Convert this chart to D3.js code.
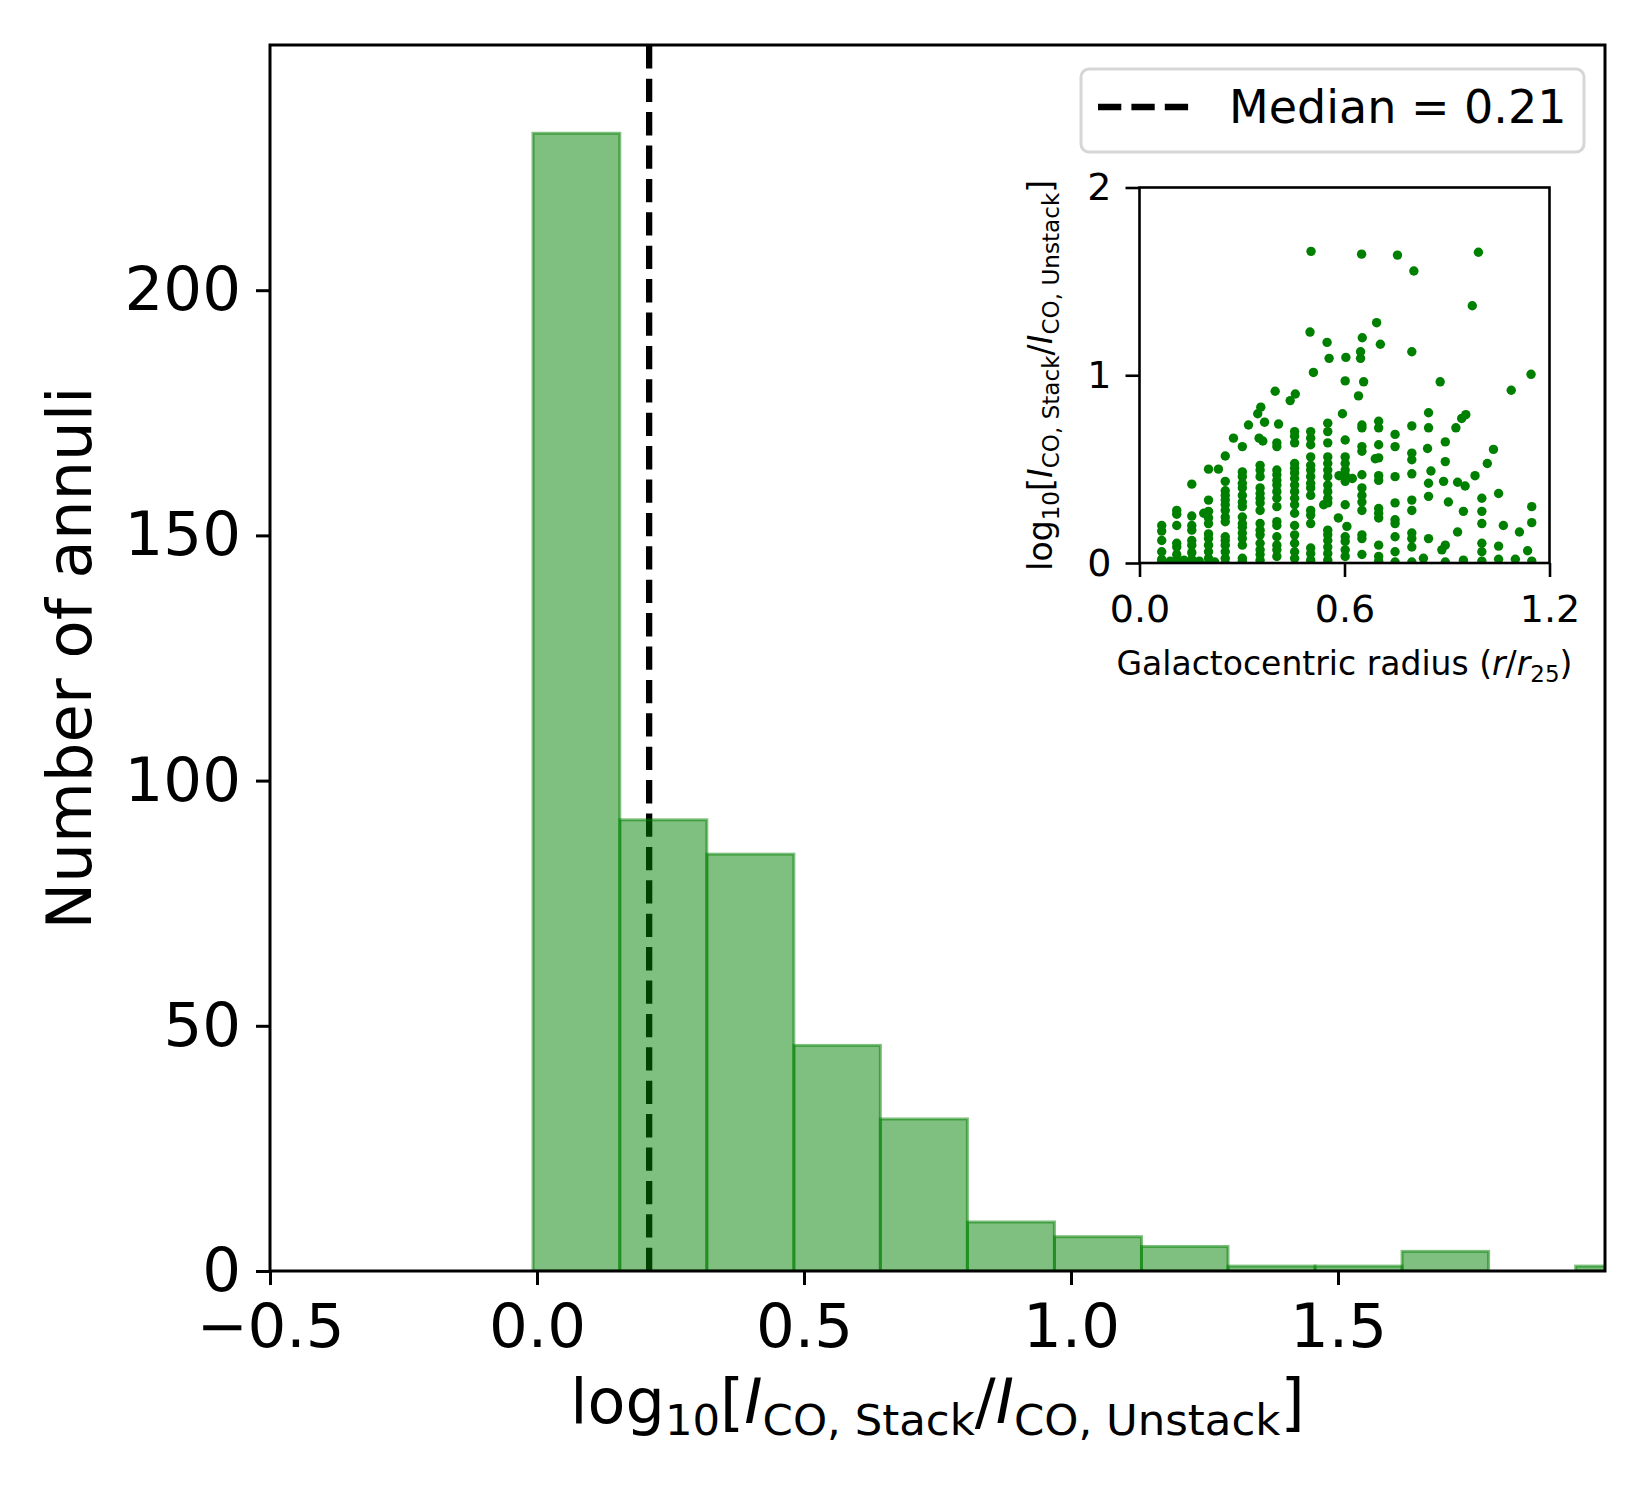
<!DOCTYPE html>
<html lang="en">
<head>
<meta charset="UTF-8">
<title>CO stacking ratio histogram</title>
<script src="https://cdn.jsdelivr.net/npm/d3@7"></script>
<style>
    body { margin: 0; background: #fff; }
    svg { font-family: "DejaVu Sans", sans-serif; }
</style>
</head>
<body>
<script>
// histogram bins (log10 ratio) and counts
var histEdges = [-0.0075, 0.155, 0.318, 0.481, 0.643, 0.806, 0.969, 1.132, 1.294, 1.457, 1.620, 1.782, 1.945, 2.108];
var histCounts = [232, 92, 85, 46, 31, 10, 7, 5, 1, 1, 4, 0, 1];
var medianValue = 0.21;
var xTicks = [-0.5, 0, 0.5, 1.0, 1.5];
var yTicks = [0, 50, 100, 150, 200];

// inset: [r/r25, log10 ratio]
var insetPoints = [
    [0.065,0.20],[0.065,0.17],[0.065,0.12],[0.065,0.06],[0.065,0.02],[0.065,0.005],
    [0.109,0.28],[0.109,0.26],[0.109,0.20],[0.109,0.105],[0.109,0.085],[0.109,0.045],[0.109,0.012],[0.109,0.0],
    [0.153,0.42],[0.153,0.25],[0.153,0.20],[0.153,0.175],[0.153,0.12],[0.153,0.095],[0.153,0.055],[0.153,0.02],[0.153,0.0],
    [0.09,0.01],[0.13,0.015],[0.175,0.01],[0.22,0.005],
    [0.202,0.50],[0.202,0.335],[0.202,0.275],[0.202,0.24],[0.202,0.21],[0.202,0.155],[0.202,0.13],[0.202,0.095],[0.202,0.06],[0.202,0.025],[0.202,0.0],
    [0.188,0.265],[0.231,0.50],
    [0.251,0.57],[0.251,0.435],[0.251,0.385],[0.251,0.36],[0.251,0.335],[0.251,0.31],[0.251,0.28],[0.251,0.245],[0.251,0.22],[0.251,0.14],[0.251,0.12],[0.251,0.095],[0.251,0.06],[0.251,0.025],[0.251,0.0],
    [0.275,0.665],
    [0.301,0.62],[0.301,0.485],[0.301,0.46],[0.301,0.425],[0.301,0.40],[0.301,0.36],[0.301,0.325],[0.301,0.30],[0.301,0.245],[0.301,0.21],[0.301,0.19],[0.301,0.16],[0.301,0.13],[0.301,0.095],[0.301,0.025],[0.301,0.01],
    [0.319,0.735],
    [0.355,0.83],[0.346,0.795],[0.366,0.75],[0.35,0.665],[0.361,0.65],[0.353,0.52],[0.353,0.495],[0.353,0.46],[0.353,0.40],[0.353,0.37],[0.353,0.345],[0.353,0.32],[0.353,0.28],[0.353,0.21],[0.353,0.175],[0.353,0.15],[0.353,0.105],[0.353,0.07],[0.353,0.045],[0.353,0.015],
    [0.397,0.915],[0.407,0.74],[0.402,0.64],[0.402,0.62],[0.402,0.495],[0.402,0.47],[0.402,0.44],[0.402,0.415],[0.402,0.38],[0.402,0.345],[0.402,0.30],[0.402,0.22],[0.402,0.20],[0.402,0.14],[0.402,0.095],[0.402,0.07],[0.402,0.035],
    [0.456,0.90],[0.441,0.865],[0.454,0.70],[0.454,0.675],[0.454,0.64],[0.454,0.53],[0.454,0.505],[0.454,0.48],[0.454,0.45],[0.454,0.415],[0.454,0.38],[0.454,0.345],[0.454,0.31],[0.454,0.265],[0.454,0.20],[0.454,0.15],[0.454,0.105],[0.454,0.06],[0.454,0.025],
    [0.502,1.66],[0.499,1.23],[0.509,1.015],[0.501,0.70],[0.501,0.665],[0.501,0.63],[0.501,0.565],[0.501,0.52],[0.501,0.495],[0.501,0.46],[0.501,0.425],[0.501,0.40],[0.501,0.36],[0.501,0.28],[0.501,0.255],[0.501,0.21],[0.501,0.08],[0.501,0.05],[0.501,0.015],
    [0.549,1.175],[0.555,1.09],[0.551,0.745],[0.551,0.70],[0.551,0.64],[0.551,0.565],[0.551,0.53],[0.551,0.495],[0.551,0.46],[0.551,0.415],[0.551,0.38],[0.551,0.345],[0.551,0.32],[0.539,0.31],[0.551,0.175],[0.551,0.15],[0.551,0.12],[0.551,0.085],[0.551,0.05],[0.551,0.015],
    [0.604,1.095],[0.602,0.97],[0.594,0.795],[0.602,0.655],[0.602,0.565],[0.602,0.53],[0.602,0.495],[0.602,0.47],[0.602,0.435],[0.584,0.465],[0.623,0.45],[0.602,0.31],[0.582,0.24],[0.607,0.195],[0.602,0.14],[0.602,0.115],[0.602,0.07],[0.602,0.035],
    [0.650,1.645],[0.652,1.20],[0.647,1.125],[0.647,1.09],[0.656,0.965],[0.641,0.89],[0.651,0.735],[0.651,0.72],[0.651,0.62],[0.651,0.595],[0.651,0.47],[0.651,0.40],[0.651,0.36],[0.651,0.325],[0.651,0.28],[0.651,0.15],[0.651,0.13],[0.651,0.045],
    [0.694,1.28],[0.705,1.165],[0.70,0.755],[0.70,0.72],[0.70,0.63],[0.70,0.56],[0.69,0.555],[0.70,0.465],[0.70,0.44],[0.70,0.29],[0.70,0.265],[0.70,0.24],[0.70,0.095],[0.70,0.035],[0.70,0.01],
    [0.755,1.64],[0.748,0.685],[0.748,0.62],[0.748,0.46],[0.748,0.32],[0.748,0.23],[0.748,0.21],[0.748,0.14],[0.748,0.06],[0.748,0.005],
    [0.803,1.555],[0.797,1.125],[0.797,0.73],[0.797,0.585],[0.797,0.55],[0.797,0.475],[0.797,0.335],[0.797,0.28],[0.797,0.16],[0.797,0.13],[0.797,0.085],[0.797,0.005],
    [0.846,0.80],[0.846,0.72],[0.843,0.61],[0.853,0.49],[0.846,0.425],[0.846,0.355],[0.846,0.13],[0.831,0.025],
    [0.88,0.965],[0.895,0.645],[0.895,0.54],[0.89,0.435],[0.904,0.325],[0.895,0.095],[0.885,0.07],[0.895,0.005],
    [0.955,0.79],[0.943,0.77],[0.926,0.72],[0.931,0.43],[0.953,0.41],[0.948,0.275],[0.931,0.165],[0.948,0.015],
    [0.992,1.655],[0.974,1.37],[0.982,0.465],[1.018,0.53],[1.036,0.605],[1.002,0.345],[1.002,0.275],[1.002,0.21],[1.002,0.105],[1.002,0.06],[1.002,0.01],
    [1.051,0.37],[1.065,0.20],[1.051,0.09],[1.051,0.02],
    [1.088,0.92],[1.112,0.165],[1.10,0.02],
    [1.146,1.005],[1.148,0.30],[1.148,0.215],[1.136,0.065],[1.148,0.01]
];
var insetXTicks = [0, 0.6, 1.2];
var insetYTicks = [0, 1, 2];

var W = 1650, H = 1500;
var svg = d3.select("body").append("svg").attr("width", W).attr("height", H);

// ---- main axes ----
var mL = 270, mR = 1605, mT = 45, mB = 1271;
var x = d3.scaleLinear().domain([-0.5, 2.0]).range([mL, mR]);
var y = d3.scaleLinear().domain([0, 250]).range([mB, mT]);

svg.append("clipPath").attr("id", "mainClip")
    .append("rect").attr("x", mL).attr("y", mT)
    .attr("width", mR - mL).attr("height", mB - mT);

var plot = svg.append("g").attr("clip-path", "url(#mainClip)");

// median line (sits under the bars)
plot.append("line")
    .attr("x1", x(medianValue)).attr("x2", x(medianValue))
    .attr("y1", mB).attr("y2", mT)
    .attr("stroke", "black")
    .attr("stroke-width", 6.3)
    .attr("stroke-dasharray", "23.3,10.1");

var bins = histCounts.map(function(c, i){
    return { x0: histEdges[i], x1: histEdges[i + 1], n: c };
});
plot.selectAll("rect.bar")
    .data(bins)
    .enter()
    .append("rect")
    .attr("class", "bar")
    .attr("x", function(d){ return x(d.x0); })
    .attr("width", function(d){ return x(d.x1) - x(d.x0); })
    .attr("y", function(d){ return y(d.n); })
    .attr("height", function(d){ return y(0) - y(d.n); })
    .attr("fill", "green").attr("fill-opacity", 0.5)
    .attr("stroke", "green").attr("stroke-opacity", 0.5)
    .attr("stroke-width", 3);

var xAxis = svg.append("g")
    .attr("transform", "translate(0," + mB + ")")
    .call(d3.axisBottom(x).tickValues(xTicks).tickFormat(d3.format(".1f"))
        .tickSizeInner(14).tickSizeOuter(0).tickPadding(19));
var yAxis = svg.append("g")
    .attr("transform", "translate(" + mL + ",0)")
    .call(d3.axisLeft(y).tickValues(yTicks).tickFormat(d3.format("d"))
        .tickSizeInner(14).tickSizeOuter(0).tickPadding(15));
[xAxis, yAxis].forEach(function(a){
    a.select(".domain").remove();
    a.selectAll(".tick line").attr("stroke", "black").attr("stroke-width", 3);
    a.selectAll(".tick text").attr("fill", "black")
        .style("font-size", "61px").style("font-family", "DejaVu Sans");
});

svg.append("rect")
    .attr("x", mL).attr("y", mT)
    .attr("width", mR - mL).attr("height", mB - mT)
    .attr("fill", "none").attr("stroke", "black").attr("stroke-width", 3);

// axis labels
svg.append("text")
    .attr("transform", "translate(91," + ((mT + mB) / 2) + ") rotate(-90)")
    .attr("text-anchor", "middle")
    .style("font-size", "62.5px")
    .text("Number of annuli");

// mathtext-like label: log10[I_CO,Stack / I_CO,Unstack]
function ratioLabel(g, size){
    var t = g.append("text").attr("text-anchor", "middle").style("font-size", size + "px");
    var s = size * 0.7, d = size * 0.2;
    t.append("tspan").text("log");
    t.append("tspan").attr("dy", d).style("font-size", s + "px").text("10");
    t.append("tspan").attr("dy", -d).text("[");
    t.append("tspan").style("font-style", "italic").text("I");
    t.append("tspan").attr("dy", d).style("font-size", s + "px").text("CO, Stack");
    t.append("tspan").attr("dy", -d).text("/");
    t.append("tspan").style("font-style", "italic").text("I");
    t.append("tspan").attr("dy", d).style("font-size", s + "px").text("CO, Unstack");
    t.append("tspan").attr("dy", -d).text("]");
    return t;
}
ratioLabel(svg.append("g").attr("transform", "translate(" + ((mL + mR) / 2) + ",1423)"), 62);

// legend
svg.append("rect")
    .attr("x", 1081).attr("y", 69).attr("width", 503).attr("height", 83)
    .attr("rx", 8).attr("ry", 8)
    .attr("fill", "white").attr("fill-opacity", 0.8)
    .attr("stroke", "#d6d6d6").attr("stroke-width", 3);
svg.append("line")
    .attr("x1", 1098).attr("x2", 1190).attr("y1", 107).attr("y2", 107)
    .attr("stroke", "black").attr("stroke-width", 6.3)
    .attr("stroke-dasharray", "23.3,10.1");
svg.append("text")
    .attr("x", 1229).attr("y", 123)
    .style("font-size", "46px")
    .text("Median = " + medianValue.toFixed(2));

// ---- inset ----
var iL = 1139.5, iR = 1549.5, iT = 187.5, iB = 563;
var ix = d3.scaleLinear().domain([0, 1.2]).range([iL, iR]);
var iy = d3.scaleLinear().domain([0, 2]).range([iB, iT]);

svg.append("clipPath").attr("id", "insetClip")
    .append("rect").attr("x", iL).attr("y", iT)
    .attr("width", iR - iL).attr("height", iB - iT);

svg.append("rect")
    .attr("x", iL).attr("y", iT).attr("width", iR - iL).attr("height", iB - iT)
    .attr("fill", "white");

svg.append("g").attr("clip-path", "url(#insetClip)")
    .selectAll("circle")
    .data(insetPoints)
    .enter()
    .append("circle")
    .attr("cx", function(d){ return ix(d[0]); })
    .attr("cy", function(d){ return iy(d[1]); })
    .attr("r", 4.7)
    .attr("fill", "green");

var ixAxis = svg.append("g")
    .attr("transform", "translate(0," + iB + ")")
    .call(d3.axisBottom(ix).tickValues(insetXTicks).tickFormat(d3.format(".1f"))
        .tickSizeInner(14).tickSizeOuter(0).tickPadding(18));
var iyAxis = svg.append("g")
    .attr("transform", "translate(" + iL + ",0)")
    .call(d3.axisLeft(iy).tickValues(insetYTicks).tickFormat(d3.format("d"))
        .tickSizeInner(14).tickSizeOuter(0).tickPadding(14));
[ixAxis, iyAxis].forEach(function(a){
    a.select(".domain").remove();
    a.selectAll(".tick line").attr("stroke", "black").attr("stroke-width", 2.6);
    a.selectAll(".tick text").attr("fill", "black")
        .style("font-size", "38px").style("font-family", "DejaVu Sans");
});

svg.append("rect")
    .attr("x", iL).attr("y", iT).attr("width", iR - iL).attr("height", iB - iT)
    .attr("fill", "none").attr("stroke", "black").attr("stroke-width", 2.6);

var gx = svg.append("text")
    .attr("x", (iL + iR) / 2).attr("y", 675)
    .attr("text-anchor", "middle")
    .style("font-size", "33px");
gx.append("tspan").text("Galactocentric radius (");
gx.append("tspan").style("font-style", "italic").text("r");
gx.append("tspan").text("/");
gx.append("tspan").style("font-style", "italic").text("r");
gx.append("tspan").attr("dy", 6.6).style("font-size", "23px").text("25");
gx.append("tspan").attr("dy", -6.6).text(")");

ratioLabel(svg.append("g").attr("transform", "translate(1052," + ((iT + iB) / 2) + ") rotate(-90)"), 33);
</script>
</body>
</html>
